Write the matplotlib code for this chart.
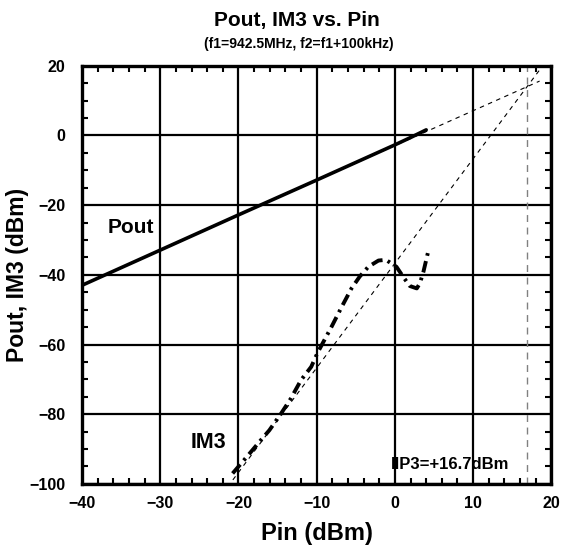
import numpy as np
import matplotlib.pyplot as plt
from matplotlib.ticker import MultipleLocator

plt.rcParams['font.family'] = ['Liberation Sans', 'DejaVu Sans']
plt.rcParams['font.weight'] = 'bold'

############### Data
pin_pout = [-40, -30, -20, -10, 0, 2, 4]
pout = [-43.0, -32.9, -22.8, -12.8, -2.7, -0.6, 1.6]

pin_im3 = [-20.75, -19.3, -17.35, -16.05, -14.55, -13.3, -12.0, -10.7, -9.85,
           -8.1, -6.8, -5.55, -4.5, -3.4, -2.1, -1.15, 0.2, 1.1, 1.9, 2.8,
           3.2, 3.65, 4.3]
im3 = [-97.0, -93.2, -88.0, -84.6, -79.8, -75.5, -70.2, -66.4, -62.2,
       -54.9, -49.2, -43.9, -40.5, -37.7, -35.9, -35.7, -37.7, -40.7, -43.2, -43.9,
       -42.4, -39.1, -32.9]

iip3 = 16.9      # where the dashed marker sits in the picture
oip3 = 14.0
pin_ext = [-40, 18.5]
pin_ext_im3 = [-21.4, 18.5]

############### Extrapolated lines (slope 1 and 3 through the intercept)
pout_ext = [oip3 + (p - iip3) for p in pin_ext]
im3_ext = [oip3 + 3 * (p - iip3) for p in pin_ext_im3]

############### Plot
fig = plt.figure(figsize=(5.62, 5.48), dpi=100)
ax = fig.add_axes([0.146, 0.117, 0.835, 0.763])

ax.plot(pin_ext, pout_ext, color='black', lw=0.8, ls=(0, (4, 4)))
ax.plot(pin_ext_im3, im3_ext, color='black', lw=0.8, ls=(0, (4, 4)))
ax.axvline(iip3, color='#808080', lw=1.0, ls=(0, (5, 4)))

ax.plot(pin_pout, pout, color='black', lw=2.6, solid_capstyle='round')
ax.plot(pin_im3, im3, color='black', lw=2.8, ls=(0, (3, 1.4, 0.7, 1.4)))

ax.text(-33.7, -26.3, 'Pout', fontsize=15, fontweight='bold', ha='center', va='center')
ax.text(-23.8, -88.2, 'IM3', fontsize=15.5, fontweight='bold', ha='center', va='center')
ax.text(7.0, -94.5, 'IIP3=+16.7dBm', fontsize=12, fontweight='bold', ha='center', va='center')

ax.set_xlim(-40, 20)
ax.set_ylim(-100, 20)
ax.xaxis.set_major_locator(MultipleLocator(10))
ax.yaxis.set_major_locator(MultipleLocator(20))
ax.xaxis.set_minor_locator(MultipleLocator(2))
ax.yaxis.set_minor_locator(MultipleLocator(5))
ax.grid(True, which='major', color='black', lw=1.6)
ax.tick_params(which='both', direction='in', top=True, right=True, labelsize=11.5)
ax.tick_params(which='major', length=0)
ax.tick_params(axis='x', which='major', pad=9)
ax.tick_params(axis='y', which='major', pad=12)
ax.tick_params(which='minor', length=4, width=1.5)
for lab in ax.get_xticklabels() + ax.get_yticklabels():
    lab.set_fontweight('bold')
for s in ax.spines.values():
    s.set_linewidth(2.4)

ax.set_xlabel('Pin (dBm)', fontsize=17, fontweight='bold', labelpad=8)
ax.set_ylabel('Pout, IM3 (dBm)', fontsize=16.5, fontweight='bold')
ax.yaxis.set_label_coords(-0.113, 0.5)

fig.text(0.529, 0.953, 'Pout, IM3 vs. Pin', fontsize=15, fontweight='bold', ha='center', va='baseline')
fig.text(0.531, 0.913, '(f1=942.5MHz, f2=f1+100kHz)', fontsize=10, fontweight='bold', ha='center', va='baseline')

fig.savefig('out.png', dpi=100)
